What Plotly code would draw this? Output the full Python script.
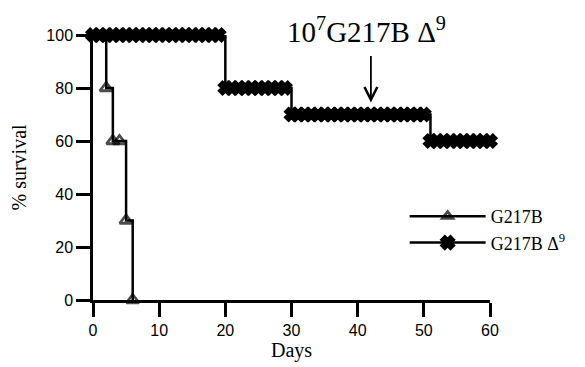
import plotly.graph_objects as go

# G217B survival (days, % survival)
g217b_days = [0, 2, 3, 4, 5, 6]
g217b_surv = [100, 80, 60, 60, 30, 0]

# G217B delta9 survival, one observation per day
d9_days = list(range(0, 61))
d9_surv = [100] * 20 + [80] * 10 + [70] * 21 + [60] * 10

x_ticks = [0, 10, 20, 30, 40, 50, 60]
y_ticks = [0, 20, 40, 60, 80, 100]

annot_day = 42
annot_level = 74.5

fig = go.Figure()
fig.add_trace(go.Scatter(
    x=d9_days, y=d9_surv, mode="lines+markers", name="G217B Δ<sup>9</sup>",
    line=dict(color="black", width=2.5, shape="hv"),
    marker=dict(symbol="x", size=10, color="black", line=dict(width=3.4, color="black")),
    cliponaxis=False,
))
fig.add_trace(go.Scatter(
    x=g217b_days, y=g217b_surv, mode="lines+markers", name="G217B",
    line=dict(color="black", width=2.5, shape="hv"),
    marker=dict(symbol="triangle-up-open", size=[0, 11, 11, 11, 11, 11],
                color="black", line=dict(width=2.8, color="black")),
    cliponaxis=False,
))

fig.add_annotation(
    x=annot_day, y=annot_level, xref="x", yref="y",
    text="", showarrow=True, arrowhead=5, arrowsize=1.4, arrowwidth=1.8,
    arrowcolor="black", ax=0, ay=-48, axref="pixel", ayref="pixel",
    font=dict(size=1),
)
fig.add_annotation(
    x=annot_day, y=annot_level, xref="x", yref="y",
    text="10<sup>7</sup>G217B Δ<sup>9</sup>", showarrow=False,
    yshift=73, xshift=-4,
    font=dict(family="Liberation Serif", size=29, color="black"),
)

fig.update_layout(
    width=577, height=359,
    margin=dict(l=85, r=95, t=27, b=67),
    plot_bgcolor="white", paper_bgcolor="white",
    showlegend=True,
    legend=dict(x=0.785, y=0.385, xanchor="left", yanchor="top",
                traceorder="reversed", itemwidth=76, tracegroupgap=0,
                font=dict(family="Liberation Serif", size=18, color="black"),
                bgcolor="rgba(0,0,0,0)"),
    xaxis=dict(range=[0, 60], tickvals=x_ticks, ticks="outside", ticklen=14,
               tickwidth=2.5, tickcolor="black", showline=True, linewidth=2.5,
               linecolor="black", showgrid=False, zeroline=False, automargin=False,
               tickfont=dict(family="Liberation Sans", size=16, color="black"),
               title=dict(text="Days", standoff=4,
                          font=dict(family="Liberation Serif", size=20, color="black"))),
    yaxis=dict(range=[0, 100], tickvals=y_ticks, ticks="outside", ticklen=14,
               tickwidth=2.5, tickcolor="black", showline=True, linewidth=2.5,
               linecolor="black", showgrid=False, zeroline=False, automargin=False,
               tickfont=dict(family="Liberation Sans", size=16, color="black"),
               title=dict(text="% survival", standoff=16,
                          font=dict(family="Liberation Serif", size=20, color="black"))),
)

fig.write_html("out.html")
